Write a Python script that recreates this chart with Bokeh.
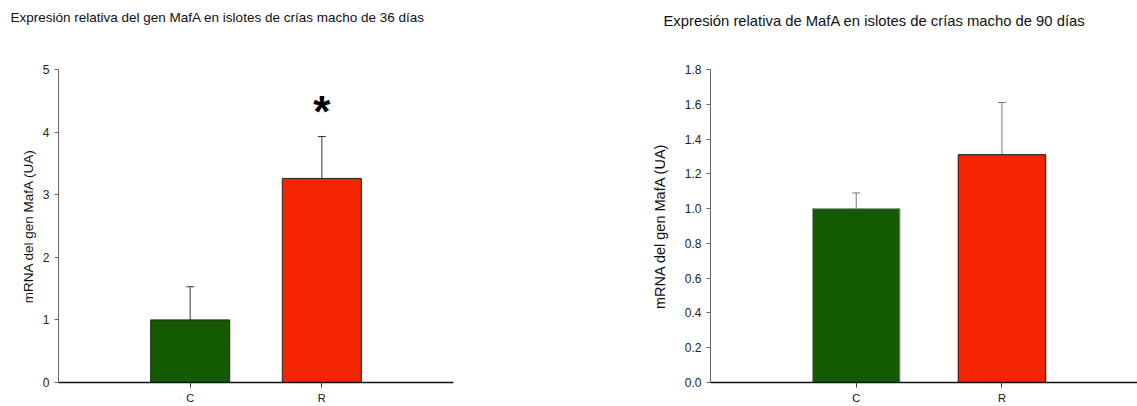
from bokeh.plotting import figure
from bokeh.models import (ColumnDataSource, Whisker, TeeHead, FixedTicker,
                          Range1d, NumeralTickFormatter, Title)
from bokeh.layouts import row
from bokeh.embed import file_html
from bokeh.resources import INLINE
from bokeh.core.properties import value
import numpy as np

# ---------------- data ----------------
categories = ["C", "R"]
bar_colors = ["#145a00", "#f42300"]

mafa_36_mean = [1.0, 3.26]
mafa_36_err = [0.53, 0.67]
mafa_36_sig = ["", "*"]

mafa_90_mean = [1.0, 1.31]
mafa_90_err = [0.09, 0.30]
mafa_90_sig = ["", ""]

title_36 = "Expresión relativa del gen MafA en islotes  de crías macho de 36 días"
title_90 = "Expresión relativa de MafA en islotes de crías macho de 90 días"
ylabel = "mRNA del gen MafA (UA)"

FONT = "Liberation Sans"


def panel(title, means, errs, sig, ymax, yticks, yfmt, width, x_end,
          border_left, border_right, border_top, title_offset, spacer_standoff,
          title_size, label_size, label_standoff, outline_colors, err_color):
    x = np.arange(1, len(categories) + 1)
    tops = [m + e for m, e in zip(means, errs)]
    src = ColumnDataSource(dict(x=x, mean=means, top=tops, color=bar_colors,
                                outline=outline_colors, sig=sig))
    p = figure(width=width, height=406, output_backend="svg", toolbar_location=None,
               x_range=Range1d(0, x_end), y_range=Range1d(0, ymax),
               min_border_left=border_left, min_border_right=border_right,
               min_border_top=border_top, min_border_bottom=0, title=None)
    p.outline_line_color = None
    p.grid.visible = False
    p.background_fill_color = "white"
    p.border_fill_color = "white"

    # spacer (nearest the frame) then the visible title above it
    p.add_layout(Title(text=" ", text_font_size="10px", standoff=spacer_standoff), "above")
    p.add_layout(Title(text=title, align="left", offset=title_offset, standoff=4,
                       text_font=FONT, text_font_size=f"{title_size}px",
                       text_font_style="normal", text_color="#111111"), "above")

    p.vbar(x="x", top="mean", width=0.6, source=src, fill_color="color",
           line_color="outline", line_width=1)
    w = Whisker(source=src, base="x", lower="mean", upper="top", dimension="height",
                line_color=err_color, line_width=1, lower_head=None,
                upper_head=TeeHead(size=8, line_color=err_color, line_width=1))
    p.add_layout(w)
    p.text(x="x", y="top", text="sig", source=src, text_align="center",
           text_baseline="alphabetic", y_offset=-25, text_font=value(FONT),
           text_font_style="bold", text_font_size="44px", text_color="black")

    xa = p.xaxis[0]
    xa.ticker = FixedTicker(ticks=list(x))
    xa.major_label_overrides = {int(i): c for i, c in zip(x, categories)}
    xa.minor_tick_line_color = None
    xa.major_tick_in = 0
    xa.major_tick_out = 5
    xa.major_label_standoff = 4
    xa.axis_line_color = "#111111"
    xa.axis_line_width = 1.5
    xa.major_tick_line_color = "#333333"
    xa.major_label_text_font = FONT
    xa.major_label_text_font_size = "11px"
    xa.major_label_text_color = "#111111"

    ya = p.yaxis[0]
    ya.ticker = FixedTicker(ticks=yticks)
    ya.formatter = NumeralTickFormatter(format=yfmt)
    ya.minor_tick_line_color = None
    ya.major_tick_in = 0
    ya.major_tick_out = 4
    ya.major_label_standoff = 5
    ya.axis_line_color = "#666666"
    ya.major_tick_line_color = "#666666"
    ya.major_label_text_font = FONT
    ya.major_label_text_font_size = "12px"
    ya.major_label_text_color = "#222222"
    ya.axis_label = ylabel
    ya.axis_label_text_font = FONT
    ya.axis_label_text_font_style = "normal"
    ya.axis_label_text_font_size = f"{label_size}px"
    ya.axis_label_text_color = "#111111"
    ya.axis_label_standoff = label_standoff
    return p


p1 = panel(title_36, mafa_36_mean, mafa_36_err, mafa_36_sig, 5,
           [0, 1, 2, 3, 4, 5], "0", 648, 3.0, 58, 195, 69, -48, 30, 13.5, 13.5, 4,
           ["#222222", "#222222"], "#333333")
p2 = panel(title_90, mafa_90_mean, mafa_90_err, mafa_90_sig, 1.8,
           [round(v, 1) for v in np.arange(0, 1.81, 0.2)], "0.0", 489, 2.93,
           62, 0, 67, -47, 26, 14.8, 14.5, 14,
           ["#9a9a9a", "#111111"], "#777777")

layout = row(p1, p2)
open("out.html", "w").write(file_html(layout, INLINE))
